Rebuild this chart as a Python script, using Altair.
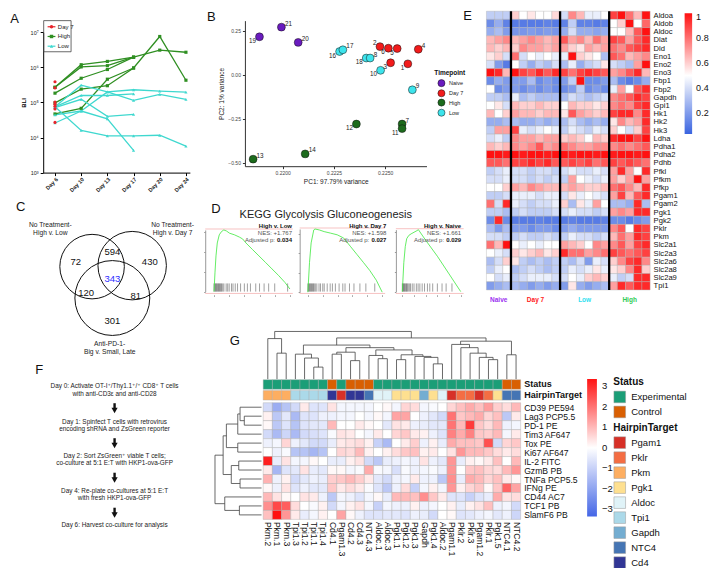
import json
import altair as alt
import pandas as pd

# ======================= DATA =======================
# ---- Panel A: BLI per mouse ----
days = ["Day 6", "Day 10", "Day 13", "Day 17", "Day 20", "Day 24"]
bli_high = [
    [2.7e5, 1.19e6, 1.48e6, 1.95e6, 3.1e6, 2.7e6],
    [2.7e5, 1.03e6, 1.12e6, 1.95e6],
    [1.84e5, 4.9e5, 8.7e5, 1.95e6],
    [9.7e4, 2.4e5, 3.0e5, 9.6e5, 7.6e6, 4.3e5],
    [4.7e4, 6.8e4, 4.6e5, 9.6e5],
]
bli_low = [
    [7.5e4, 3.1e5, 2.0e5, 1.15e5, 1.69e5, 1.23e5],
    [7.5e4, 1.58e5, 1.58e5, 1.76e5],
    [2.6e4, 5.7e4, 2.0e5, 2.3e5, 2.1e5, 1.96e5],
    [7.1e4, 1.23e5, 4.0e4, 4.6e4],
    [4.4e4, 5.7e4, 3.4e4, 4.3e3],
    [7.5e4, 1.6e4, 1.11e4, 1.11e4, 1.16e4, 5.7e3],
]
bli_day7 = [3.9e5, 2.6e5, 1.03e5, 8.9e4, 7.8e4, 6.5e4, 2.7e4]
series_names = ["Day 7", "High", "Low"]
series_colors = ["#e8242b", "#2f8f22", "#3fd8cf"]
series_shapes = ["circle", "square", "triangle-up"]
bli_ticks = [1e3, 1e4, 1e5, 1e6, 1e7]

# ---- Panel B: PCA ----
pca_id = [19, 21, 20, 2, 6, 5, 4, 3, 1, 16, 17, 18, 8, 10, 9, 12, 7, 11, 14, 13]
pca_pc1 = [0.21887, 0.21994, 0.22076, 0.22475, 0.22516, 0.22559, 0.22662, 0.22527, 0.22611,
           0.22278, 0.22294, 0.22408, 0.22427, 0.22478, 0.22633,
           0.22360, 0.22583, 0.22583, 0.22110, 0.21856]
pca_pc2 = [0.217, 0.272, 0.185, 0.161, 0.152, 0.150, 0.146, 0.069, 0.063,
           0.133, 0.143, 0.096, 0.096, 0.026, -0.085,
           -0.280, -0.280, -0.306, -0.450, -0.480]
pca_group = ["Naive"] * 3 + ["Day 7"] * 6 + ["Low"] * 6 + ["High"] * 5
tp_names = ["Naive", "Day 7", "High", "Low"]
tp_colors = ["#6a1bbf", "#f21b1b", "#1c6b1c", "#3de4ec"]
pc1_ticks = [0.2200, 0.2225, 0.2250]
pc2_ticks = [-0.50, -0.25, 0.00, 0.25]

# ---- Panel C: Venn ----
venn_counts = ["72", "594", "430", "343", "120", "81", "301"]
venn_labels = ["No Treatment-", "High v. Low", "No Treatment-", "High v. Day 7",
               "Anti-PD-1-", "Big v. Small, Late"]

# ---- Panel D: GSEA ----
d_title = "KEGG Glycolysis Gluconeogenesis"
d_names = ["High v. Low", "High v. Day 7", "High v. Naive"]
d_nes = ["NES: +1.767", "NES: +1.598", "NES: +1.661"]
d_padj = ["0.034", "0.027", "0.029"]
d_frac = [
    [0, .013, .026, .043, .069, .099, .129, .163, .206, .270, .335, .378, .421, .506, .592, .678, .764, .850, .936, 1.0],
    [0, .022, .044, .079, .096, .154, .219, .307, .395, .482, .570, .658, .746, .833, .921, 1.0],
    [0, .025, .05, .075, .11, .15, .2, .25, .275, .4, .6, .8, 1.0],
]
d_es = [
    [0, .196, .359, .489, .571, .604, .62, .610, .587, .571, .548, .529, .489, .424, .359, .294, .228, .163, .091, .026],
    [0, .307, .507, .640, .65, .640, .623, .607, .590, .557, .473, .390, .307, .223, .123, 0],
    [0, .289, .450, .530, .562, .578, .594, .610, .62, .514, .354, .177, 0],
]
d_hits = [
    [0.0, .012, .022, .03, .04, .05, .06, .07, .08, .09, .1, .115, .13, .16, .18, .2, .23, .25, .28, .31,
     .35, .4, .44, .48, .55, .6, .66, .72, .8, .97],
    [0.0, .01, .02, .03, .04, .05, .062, .075, .085, .1, .12, .15, .17, .2, .22, .26, .3, .33, .37, .42,
     .47, .5, .56, .62, .7, .78, .9],
    [0.0, .01, .02, .035, .045, .06, .07, .085, .1, .12, .14, .17, .2, .24, .27, .3, .34, .38, .43, .47,
     .52, .6, .68, .75, .85],
]

# ---- Panel E: glycolysis heatmap ----
e_genes = ["Aldoa", "Aldob", "Aldoc", "Dlat", "Dld", "Eno1", "Eno2", "Eno3", "Fbp1", "Fbp2", "Gapdh",
           "Gpi1", "Hk1", "Hk2", "Hk3", "Ldha", "Pdha1", "Pdha2", "Pdhb", "Pfkl", "Pfkm", "Pfkp",
           "Pgam1", "Pgam2", "Pgk1", "Pgk2", "Pklr", "Pkm", "Slc2a1", "Slc2a3", "Slc2a6", "Slc2a8",
           "Slc2a9", "Tpi1"]
e_matrix = [
    [.35, .35, .35, .6, .5, .55, .5, .5, .58, .4, .75, .65, .45, .45, .5, .9, 1.0, .8, .65, 1.0],
    [.15, .25, .12, .1, .1, .1, .1, .12, .1, .12, .35, .12, .12, .1, .12, .5, .6, 1.0, .5, .82],
    [.25, .3, .2, .18, .18, .2, .18, .2, .18, .25, .4, .25, .25, .22, .25, .5, .5, .65, .85, 1.0],
    [.65, .7, .75, .65, .7, .75, .7, .65, .7, .85, .7, .75, .65, .8, .7, .9, .85, .7, .85, .95],
    [.65, .6, .65, .6, .75, .7, .7, .65, .7, .7, .6, .55, .7, .65, .7, .8, .75, .85, .9, .95],
    [.55, .6, .4, .8, .4, .5, .45, .5, .45, .45, 1.0, .6, .55, .5, .3, .85, .8, .65, .7, .75],
    [.4, .2, .1, .5, .35, .25, .35, .3, .4, .3, .45, .25, .35, .4, .55, .4, .35, .3, .7, 1.0],
    [1.0, .95, .65, 1.0, .9, .85, .95, .85, .95, .9, .8, .9, .95, .9, .85, .7, .75, .85, .95, .65],
    [.15, .25, .2, .2, .2, .3, .15, .2, .15, .2, .35, 1.0, .15, .15, .2, .3, .15, .1, .15, .25],
    [.5, .15, .2, .2, .15, .2, .15, .2, .15, .15, .2, .35, .15, .2, .15, .45, .7, .5, .85, .95],
    [.35, .35, .3, .45, .3, .35, .3, .3, .3, .3, .4, .35, .3, .35, .4, .75, .8, .85, .95, .9],
    [.5, .55, .4, .65, .6, .6, .65, .6, .6, .5, .65, .6, .6, .55, .6, .75, .8, .75, .9, .95],
    [.65, .5, .6, .7, .65, .65, .6, .65, .65, .55, .85, .7, .65, .6, .65, .9, .95, .95, .75, .95],
    [.25, .25, .3, .3, .25, .25, .3, .25, .3, .3, .4, .3, .25, .3, .25, .55, .75, .65, .7, .95],
    [.35, .7, .7, .9, .45, .4, .45, .5, .45, .35, .45, .4, .35, .45, .4, .6, .5, .4, .6, .9],
    [.4, .45, .35, .75, .7, .7, .65, .7, .7, .6, .65, .6, .5, .65, .6, .95, 1.0, 1.0, .9, 1.0],
    [.65, .6, .65, .75, .7, .75, .85, .7, .75, .8, .75, .7, .7, .75, .75, .75, .8, .75, .8, .85],
    [1.0, 1.0, .98, 1.0, .98, 1.0, 1.0, .98, 1.0, 1.0, .98, 1.0, 1.0, .98, 1.0, .98, 1.0, 1.0, .98, 1.0],
    [.85, .85, .8, .9, .9, .95, .9, .95, .85, .85, .9, .85, .9, .8, .85, .9, .85, .9, .85, .8],
    [.35, .4, .45, .4, .4, .35, .4, .4, .35, .4, .45, .4, .4, .45, .4, .7, .95, .7, .5, .95],
    [.4, .4, .45, .4, .4, .35, .4, .35, .4, .35, .7, .5, .45, .4, .45, .7, .6, .7, 1.0, .7],
    [.5, .5, .6, .7, .65, .75, .7, .65, .65, .65, .7, .65, .6, .6, .65, .8, .85, .75, .65, .95],
    [.35, .35, .4, .45, .45, .45, .4, .45, .45, .4, .55, .45, .5, .45, .4, .7, .9, .65, .85, .95],
    [.8, .4, .95, .45, .4, .35, .4, .4, .45, .6, .3, .55, .45, .7, .5, .3, .3, .25, .95, .3],
    [.35, .35, .3, .35, .4, .35, .35, .35, .4, .4, .45, .4, .4, .35, .4, .7, .75, .7, .95, .95],
    [.15, .95, .15, .1, .1, .1, .12, .1, .1, .1, .12, .1, .1, .1, .12, .15, .15, .1, .15, .2],
    [.3, .2, .3, .2, .2, .15, .2, .2, .15, .2, .25, .2, .2, .2, .2, .75, .85, .5, .95, .9],
    [.4, .4, .35, .35, .4, .35, .35, .4, .35, .35, .45, .4, .4, .35, .4, .65, .8, .7, .95, .9],
    [.8, .65, 1.0, .5, .45, .5, .45, .5, .5, .7, .65, .6, .5, .75, .7, .75, .85, .7, .9, .95],
    [.5, .45, .4, .6, .55, .6, .65, .55, .6, .95, .8, .8, .7, .75, .8, .9, .85, .8, .85, .9],
    [.3, .4, .6, .55, .35, .3, .35, .3, .35, .35, .3, .4, .2, .45, .4, .6, .75, .9, .95, .75],
    [.35, .45, .5, .3, .35, .4, .35, .3, .35, .35, .45, .4, .45, .55, .45, .55, .6, .75, .95, .6],
    [.5, .4, .45, .35, .4, .45, .45, .45, .4, .4, .5, .45, .6, .65, .6, .45, .35, .4, .95, .95],
    [.2, .25, .3, .3, .25, .2, .25, .2, .25, .2, .55, .25, .2, .25, .3, .7, .95, .85, .95, .95],
]
e_groups = ["Naive", "Day 7", "Low", "High"]
e_group_sizes = [3, 6, 6, 5]
e_group_colors = ["#9b30f0", "#ff2020", "#30e0f0", "#2ecc55"]
e_ticks = [0.2, 0.4, 0.6, 0.8, 1.0]

# ---- Panel F: protocol ----
f_steps = [
    ["Day 0: Activate OT-I\u207a/Thy1.1\u207a/\u207a CD8\u207a T cells", "with anti-CD3\u03b5 and anti-CD28"],
    ["Day 1: Spinfect T cells with retrovirus", "encoding shRNA and ZsGreen reporter"],
    ["Day 2: Sort ZsGreen\u207a viable T cells;", "co-culture at 5:1 E:T with HKP1-ova-GFP"],
    ["Day 4: Re-plate co-cultures at 5:1 E:T", "with fresh HKP1-ova-GFP"],
    ["Day 6: Harvest co-culture for analysis"],
]

# ---- Panel G: flow heatmap ----
g_markers = ["CD39 PE594", "Lag3 PCP5.5", "PD-1 PE", "Tim3 AF647", "Tox PE", "Ki67 AF647", "IL-2 FITC",
             "GzmB PB", "TNFa PCP5.5", "IFNg PE", "CD44 AC7", "TCF1 PB", "SlamF6 PB"]
g_cols = ["Pkm.2", "Pkm.1", "Pkm.3", "Tpi1.3", "Tpi1.2", "Tpi1.1", "Tpi1.4", "Cd4.1", "Pgam1.3", "Cd4.2",
          "Cd4.3", "NTC4.3", "Aldoc.1", "Aldoc.3", "Pgk1.1", "Pgk1.2", "Pgk1.3", "Gapdh", "Pgk1.4",
          "Aldoc.2", "Pgam1.1", "Pklr.2", "Pklr.3", "Pgam1.2", "Pklr.1", "Pgk1.5", "NTC4.1", "NTC4.2"]
g_matrix = [
    [-0.8, -1.8, -1.3, -0.8, 0.3, -0.6, -0.6, 0.4, -0.2, -0.2, -0.2, -0.2, 0.0, 0.1, -0.2, 0.6, 0.5, -0.2, -0.1, 0.0, 0.6, 0.9, 1.2, 0.9, 1.4, 0.7, 0.5, 1.0],
    [0.2, -1.2, -0.5, -1.5, -0.6, -0.6, -0.3, -0.3, -0.2, -0.2, 0.0, -0.2, 0.1, -0.2, 1.3, 1.3, 0.0, -0.3, -0.5, -0.8, 2.0, 0.8, 1.0, 1.2, 0.6, 0.9, -1.2, 0.3],
    [0.1, -1.2, -0.6, -1.3, -0.6, -0.5, -0.5, 1.0, 0.0, 0.0, 0.3, 0.1, 0.0, -0.5, 0.4, 0.3, -0.3, -0.4, -0.5, -0.5, 2.0, 1.0, 2.8, 0.8, 0.5, 1.0, -0.3, -0.2],
    [-0.8, -1.5, -0.9, -1.5, -0.8, -0.7, -0.6, -0.1, 0.4, 0.3, 0.0, -0.2, 0.3, 0.0, 0.6, 0.8, 0.3, 0.2, -0.3, -0.6, 1.8, 1.2, 1.8, 0.8, 0.7, 1.0, -0.2, 0.3],
    [-0.3, -0.2, 0.6, -0.3, -0.5, -0.8, -0.8, -0.4, 0.3, 0.4, 0.5, 0.2, -1.0, -1.5, 0.0, 0.3, 0.7, -0.3, 0.2, -0.4, 1.2, 0.9, 0.9, 0.8, 2.5, -0.8, 0.6, 0.8],
    [0.0, -0.3, -0.1, -1.3, -1.3, -1.6, -1.3, 0.0, 0.6, 0.5, 1.0, 0.2, 0.0, 0.2, 0.5, 0.8, 0.9, 0.2, 0.3, 0.0, 0.4, 1.5, 1.0, 1.0, 0.8, 0.5, 0.3, 0.5],
    [3.2, -0.4, 0.4, -0.2, -0.2, 0.1, 0.0, -0.4, -0.4, 0.2, 0.4, -0.8, -1.2, -0.4, -0.3, -0.2, -0.3, 0.4, -0.3, -0.5, 1.5, -0.4, 0.2, 0.1, 0.3, 0.9, 0.0, 1.0],
    [0.3, -1.6, -0.6, -0.5, 0.4, -0.4, -0.5, 0.1, 0.1, -0.2, -0.1, 1.2, -0.1, -0.2, -0.7, -0.1, -0.3, -0.2, -0.1, -0.3, 1.5, 0.0, 0.8, 0.9, 0.6, 0.5, 1.0, 1.5],
    [1.1, -0.3, 0.2, -0.8, -0.5, -0.3, -0.4, 0.7, 0.8, 1.0, 0.7, 0.3, -0.5, -0.8, -0.3, -0.2, 0.3, -0.3, -0.3, -1.2, 1.6, -0.4, 1.2, 1.0, 0.6, 0.9, 0.3, 0.1],
    [0.1, -0.3, 0.4, -0.6, -0.3, -0.5, -0.5, 0.8, 0.3, 0.5, 0.3, -0.1, -0.6, -1.2, -0.3, 0.5, -1.0, -0.2, 0.2, -0.2, 1.5, 0.2, 0.6, 0.8, 0.1, 0.8, 2.2, 1.3],
    [1.0, 0.4, 0.1, 0.0, 0.4, 0.3, -0.3, -1.2, -0.2, -0.3, -0.6, -0.2, 0.1, -0.4, 1.0, 1.0, 0.9, 1.6, 0.8, 0.3, -0.6, -0.6, -1.0, -0.6, -0.4, 1.2, 0.4, 0.5],
    [1.6, 2.6, 2.3, 0.5, 0.0, -0.1, 0.2, -0.8, -0.2, 0.2, 0.4, -0.2, -1.0, -0.2, -0.3, -0.3, 0.2, -0.3, -0.2, 0.0, 0.2, -0.4, 0.2, 0.4, 0.9, -0.3, -0.2, -0.8],
    [0.9, 3.4, 1.5, 0.3, -0.4, -0.2, 0.2, 0.0, 1.3, 0.1, -0.3, -0.6, -0.6, -0.5, -0.5, -0.6, -0.3, -0.4, -0.8, 0.0, 0.1, -0.6, -0.5, -0.3, -0.2, -0.5, -0.3, -0.9],
]
status_names = ["Experimental", "Control"]
status_colors = ["#1b9e77", "#d95f02"]
hairpin_names = ["Pgam1", "Pklr", "Pkm", "Pgk1", "Aldoc", "Tpi1", "Gapdh", "NTC4", "Cd4"]
hairpin_colors = ["#d73027", "#f46d43", "#fdae61", "#fee090", "#e0f3f8", "#abd9e9", "#74add1", "#4575b4", "#313695"]
g_ticks = [-3, -2, -1, 0, 1, 2, 3]
# hierarchical clustering (child a, child b, merge height); leaves are 1-based positions
g_col_tree = [
    ("a", 2, 3, 80), ("b", 1, "a", 125), ("c", 6, 7, 37), ("d", 5, "c", 65), ("e", 4, "d", 77),
    ("f", 8, 9, 77), ("g", 10, 11, 57), ("h", "f", "g", 83), ("i", 13, 14, 63), ("j", 12, "i", 73),
    ("k", 15, 16, 60), ("l", 19, 20, 47), ("m", 18, "l", 67), ("n", 17, "m", 70), ("o", "k", "n", 75),
    ("p", "j", "o", 90), ("q", "h", "p", 97), ("r", "e", "q", 105), ("u1", 25, 26, 60),
    ("u2", 24, "u1", 67), ("u3", 23, "u2", 80), ("u4", 22, "u3", 97), ("u5", 21, "u4", 107),
    ("v1", 27, 28, 75), ("w", "u5", "v1", 117), ("x", "r", "w", 127), ("root", "b", "x", 147),
]
g_row_tree = [
    ("r1", 2, 3, 53), ("r2", 1, "r1", 66), ("r3", "r2", 4, 73), ("r4", 5, 6, 73), ("r5", "r3", "r4", 108),
    ("r6", 7, 8, 70), ("r7", 9, 10, 66), ("r8", "r6", "r7", 93), ("r9", "r5", "r8", 118),
    ("r10", 12, 13, 68), ("r11", 11, "r10", 113), ("root", "r9", "r11", 143),
]
panel_letters = ["A", "B", "C", "D", "E", "F", "G"]

# ======================= LAYOUT / STYLE =======================
W, H = 704, 560
SX, SY = W / 720.0, H / 576.0
FONT = "Liberation Sans"
# where each PCA point label sits relative to its point
PCA_LABEL_SIDE = {19: "lb", 21: "rt", 20: "rt", 2: "lt", 6: "lb", 5: "lb", 4: "rt", 3: "lb", 1: "lb",
                  16: "lb", 17: "rt", 18: "lb", 8: "rt", 10: "lb", 9: "rt", 12: "lb", 7: "rt",
                  11: "lb", 14: "rt", 13: "rt"}


def px(v):
    return v * SX


def py(v):
    return v * SY


def sx(dom, lo, hi):
    return alt.Scale(domain=dom, range=[px(lo), px(hi)], nice=False, zero=False)


def sy(dom, bottom, top):
    return alt.Scale(domain=dom, range=[py(bottom), py(top)], nice=False, zero=False)


PAGE_X = sx([0, 720], 0, 720)
PAGE_Y = alt.Scale(domain=[0, 576], range=[0, H], nice=False, zero=False)


def page_x(f="x"):
    return alt.X(f"{f}:Q", scale=PAGE_X, axis=None)


def page_y(f="y"):
    return alt.Y(f"{f}:Q", scale=PAGE_Y, axis=None)


def texts(rows, **mk):
    df = pd.DataFrame(rows, columns=["t", "x", "y"])
    base = dict(font=FONT, fontSize=6, color="#111", align="center", baseline="middle")
    base.update(mk)
    return alt.Chart(df).mark_text(**base).encode(x=page_x(), y=page_y(), text="t:N")


layers = []

# ----------------------- Panel A -----------------------
rowsA = []
for grp, mice in (("High", bli_high), ("Low", bli_low)):
    for m, vals in enumerate(mice):
        for k, v in enumerate(vals):
            rowsA.append(dict(group=grp, mouse=f"{grp}{m}", day=days[k], k=k, bli=v))
for m, v in enumerate(bli_day7):
    rowsA.append(dict(group="Day 7", mouse=f"D7_{m}", day=days[0], k=0, bli=v))
dfA = pd.DataFrame(rowsA)

A_XS = alt.Scale(type="point", domain=days, range=[px(36), px(186)], padding=0.3, align=0.75)
A_YS = alt.Scale(type="log", domain=[1e3, 1e7], range=[py(169.3), py(25)], nice=False)
colA = alt.Color("group:N", scale=alt.Scale(domain=series_names, range=series_colors), legend=None)
shpA = alt.Shape("group:N", scale=alt.Scale(domain=series_names, range=series_shapes), legend=None)
sup = json.dumps(["\u2070", "\u00b9", "\u00b2", "\u00b3", "\u2074", "\u2075", "\u2076", "\u2077"])

linesA = alt.Chart(dfA[dfA.group != "Day 7"]).mark_line(strokeWidth=1.3).encode(
    x=alt.X("day:O", scale=A_XS, axis=alt.Axis(
        orient="bottom", offset=py(169.3) - H, title=None, labelAngle=-45, labelAlign="right",
        labelBaseline="top", labelFontSize=5.5, labelFontWeight="bold", labelPadding=1, tickSize=3,
        grid=False, domainColor="#000", tickColor="#000", labelColor="#222", labelFlush=False,
        labelOverlap=False)),
    y=alt.Y("bli:Q", scale=A_YS, axis=alt.Axis(
        orient="left", offset=-px(36), values=bli_ticks,
        labelExpr="'10' + " + sup + "[round(log(datum.value)/LN10)]",
        title="BLI", titleFontSize=6, titleFontWeight="bold", titlePadding=3, labelFontSize=5.5,
        tickSize=3, grid=False, domainColor="#000", tickColor="#000", labelColor="#222",
        labelFlush=False, labelOverlap=False)),
    color=colA, detail="mouse:N", order="k:Q")
ptsA = alt.Chart(dfA).mark_point(filled=True, size=10, opacity=1).encode(
    x=alt.X("day:O", scale=A_XS, axis=None),
    y=alt.Y("bli:Q", scale=A_YS, axis=None), color=colA, shape=shpA)
layers += [linesA, ptsA]

legA = pd.DataFrame(dict(group=series_names, y=[19.3 + 10 * i for i in range(3)]))
legA["x1"], legA["x2"], legA["xm"], legA["xt"] = 40.5, 48.5, 44.5, 51.0
layers.append(alt.Chart(pd.DataFrame([dict(x=36.5, x2=64.5, y=13, y2=45)])).mark_rect(
    fill="transparent", stroke="#444", strokeWidth=0.8).encode(
    x=page_x(), x2=alt.X2("x2"), y=page_y(), y2=alt.Y2("y2")))
layers.append(alt.Chart(legA).mark_rule(strokeWidth=1.2).encode(
    x=page_x("x1"), x2=alt.X2("x2"), y=page_y("y"), color=colA))
layers.append(alt.Chart(legA).mark_point(filled=True, size=12, opacity=1).encode(
    x=page_x("xm"), y=page_y("y"), color=colA, shape=shpA))
layers.append(alt.Chart(legA).mark_text(font=FONT, fontSize=6, align="left", baseline="middle",
                                        color="#222").encode(x=page_x("xt"), y=page_y("y"),
                                                             text="group:N"))

# ----------------------- Panel B -----------------------
dfB = pd.DataFrame(dict(id=pca_id, pc1=pca_pc1, pc2=pca_pc2, group=pca_group))
dfB["lab"] = dfB.id.astype(str)
dfB["side"] = dfB.id.map(PCA_LABEL_SIDE)
B_XS = sx([0.21816, 0.22702], 242.3, 428)
B_YS = sy([-0.52, 0.309], 162.7, 13)
colB = alt.Color("group:N", scale=alt.Scale(domain=tp_names, range=tp_colors), legend=None)
layers.append(alt.Chart(dfB).mark_circle(size=62, stroke="#111", strokeWidth=0.5, opacity=1).encode(
    x=alt.X("pc1:Q", scale=B_XS, axis=alt.Axis(
        orient="bottom", offset=py(162.7) - H, values=pc1_ticks, format=".4f",
        title="PC1: 97.79% variance", titleFontSize=6.5, titleFontWeight="normal", titlePadding=3,
        titleColor="#222", labelFontSize=5, labelColor="#444", tickSize=2.5, tickColor="#333",
        domainColor="#333", grid=False, labelFlush=False)),
    y=alt.Y("pc2:Q", scale=B_YS, axis=alt.Axis(
        orient="left", offset=-px(242.3), values=pc2_ticks, format=".2f",
        title="PC2: 1% variance", titleFontSize=6.5, titleFontWeight="normal", titlePadding=3,
        titleColor="#222", labelFontSize=5, labelColor="#444", tickSize=2.5, tickColor="#333",
        domainColor="#333", grid=False, labelFlush=False)),
    color=colB))
SIDE_STYLE = {"rt": dict(align="left", dx=3.5, dy=-3.5), "lb": dict(align="right", dx=-3.5, dy=4),
              "lt": dict(align="right", dx=-3.5, dy=-4)}
for side, st in SIDE_STYLE.items():
    sub = dfB[dfB.side == side]
    layers.append(alt.Chart(sub).mark_text(font=FONT, fontSize=6.3, color="#222", baseline="middle",
                                           **st).encode(
        x=alt.X("pc1:Q", scale=B_XS, axis=None), y=alt.Y("pc2:Q", scale=B_YS, axis=None),
        text="lab:N"))
legB = pd.DataFrame(dict(group=tp_names, y=[77.3, 87.7, 97.3, 107.7]))
legB["xc"], legB["xt"] = 443.3, 451.0
layers.append(texts([("Timepoint", 436, 66.5)], fontWeight="bold", fontSize=6.5, align="left"))
layers.append(alt.Chart(legB).mark_circle(size=50, stroke="#111", strokeWidth=0.5, opacity=1).encode(
    x=page_x("xc"), y=page_y("y"), color=colB))
layers.append(alt.Chart(legB).mark_text(font=FONT, fontSize=5.5, align="left", baseline="middle",
                                        color="#222").encode(x=page_x("xt"), y=page_y("y"),
                                                             text="group:N"))

# ----------------------- Panel C -----------------------
VENN_CIRCLES = [(86, 266, 33), (127, 265, 35), (106.7, 298.3, 38.3)]
dfC = pd.DataFrame([dict(x=cx, y=cy, s=(2 * r * SX) ** 2) for cx, cy, r in VENN_CIRCLES])
layers.append(alt.Chart(dfC).mark_point(shape="circle", filled=False, strokeWidth=1, color="#111",
                                        opacity=1).encode(
    x=page_x(), y=page_y(), size=alt.Size("s:Q", scale=None)))
VENN_POS = [(69.3, 261.7), (106.7, 250.7), (145, 261.7), (106.7, 278.3), (80, 293.3), (130.7, 296),
            (106.7, 321.7)]
layers.append(texts([(t, x, y) for t, (x, y) in zip(venn_counts, VENN_POS) if t != "343"],
                    fontSize=9.5))
layers.append(texts([("343",) + VENN_POS[3]], fontSize=9.5, color="#2b2bff"))
VENN_LAB_POS = [(43.3, 223.3), (43.3, 231.5), (168.3, 223.3), (168.3, 231.5), (104, 345.7), (104, 353.5)]
layers.append(texts([(t, x, y) for t, (x, y) in zip(venn_labels, VENN_LAB_POS)], fontSize=6.7,
                    color="#222"))

# ----------------------- Panel D -----------------------
D_FR = [dict(ax=201.7, x0=210.7, x1=288.3, right=290.5, top=228.3, y0=291.7, es=0.62),
        dict(ax=298.3, x0=306.7, x1=382.7, right=387.0, top=227.3, y0=292.3, es=0.65),
        dict(ax=396.7, x0=403.3, x1=463.0, right=463.5, top=228.0, y0=291.7, es=0.62)]
layers.append(texts([(d_title, 325, 213)], fontSize=11, color="#222"))
for k, fr in enumerate(D_FR):
    DX = sx([0, 1], fr["x0"], fr["x1"])
    DY = sy([0, fr["es"]], fr["y0"], fr["top"])
    refl = pd.DataFrame([dict(x=fr["ax"], x2=fr["x1"] + 3, y=fr["top"] - 1),
                         dict(x=fr["ax"], x2=fr["x1"] + 3, y=293.6)])
    layers.append(alt.Chart(refl).mark_rule(color="#f29a9a", strokeWidth=0.6).encode(
        x=page_x(), x2=alt.X2("x2"), y=page_y()))
    dfh = pd.DataFrame(dict(f=d_hits[k]))
    dfh["y"], dfh["y2"] = 283.3, 291.7
    layers.append(alt.Chart(dfh).mark_rule(color="#222", strokeWidth=0.5, opacity=0.85).encode(
        x=alt.X("f:Q", scale=DX, axis=None), y=page_y("y"), y2=alt.Y2("y2")))
    dfc = pd.DataFrame(dict(f=d_frac[k], es=d_es[k]))
    layers.append(alt.Chart(dfc).mark_line(color="#3ee83e", strokeWidth=0.8).encode(
        x=alt.X("f:Q", scale=DX, axis=alt.Axis(orient="bottom", offset=py(295) - H, labels=False,
                                               tickSize=1.5, tickCount=5, domain=False,
                                               tickColor="#999", grid=False, title=None)),
        y=alt.Y("es:Q", scale=DY, axis=alt.Axis(orient="left", offset=-px(fr["ax"]), labels=False,
                                                tickSize=1.5, tickCount=4, domainColor="#999",
                                                tickColor="#999", grid=False, title=None))))
    r = fr["right"]
    layers.append(texts([(d_names[k], r, 224.3)], fontSize=6, fontWeight="bold", align="right"))
    layers.append(texts([(d_nes[k], r, 231.2), ("Adjusted p:", r - 17.5, 238.4)], fontSize=6,
                        align="right", color="#555"))
    layers.append(texts([(d_padj[k], r, 238.4)], fontSize=6, fontWeight="bold", align="right"))

# ----------------------- Panel E -----------------------
rowsE = [dict(x0=i, x1=i + 1, y0=j, y1=j + 1, v=v)
         for j, g in enumerate(e_genes) for i, v in enumerate(e_matrix[j])]
dfE = pd.DataFrame(rowsE)
nE = len(e_genes)
E_XS = sx([0, 20], 489.3, 656.7)
E_YS = alt.Scale(domain=[0, nE], range=[py(3.3), py(290)], nice=False, zero=False)
layers.append(alt.Chart(dfE).mark_rect(stroke="#b0b0b0", strokeWidth=0.4).encode(
    x=alt.X("x0:Q", scale=E_XS, axis=None), x2=alt.X2("x1"),
    y=alt.Y("y0:Q", scale=E_YS, axis=alt.Axis(
        orient="right", offset=px(656.7) - W, values=[j + 0.5 for j in range(nE)],
        labelExpr=json.dumps(e_genes) + "[floor(datum.value)]", ticks=False, domain=False,
        labelFontSize=7.6, labelPadding=3, labelColor="#111", grid=False, title=None,
        labelFlush=False, labelOverlap=False, labelAlign="left", labelBaseline="middle")),
    y2=alt.Y2("y1"),
    color=alt.Color("v:Q", scale=alt.Scale(domain=[0.03, 0.5, 1.0],
                                           range=["#3a64e0", "#ffffff", "#ff1111"],
                                           interpolate="rgb"),
                    legend=alt.Legend(orient="none", legendX=px(692), legendY=py(5.5),
                                      direction="vertical", gradientLength=py(130) - py(6),
                                      gradientThickness=7.5, values=e_ticks, format="~g", title=None,
                                      labelFontSize=9, labelOffset=4, gradientStrokeWidth=0,
                                      padding=0, labelColor="#111", labelFont=FONT))))
bounds = []
acc = 0
for s in e_group_sizes[:-1]:
    acc += s
    bounds.append(acc)
dfSep = pd.DataFrame(dict(x=bounds))
dfSep["y0"], dfSep["y1"] = 0, nE
layers.append(alt.Chart(dfSep).mark_rule(color="black", strokeWidth=2.3).encode(
    x=alt.X("x:Q", scale=E_XS, axis=None), y=alt.Y("y0:Q", scale=E_YS, axis=None), y2=alt.Y2("y1")))
centers, acc = [], 0
for s in e_group_sizes:
    centers.append(acc + s / 2)
    acc += s
dfEg = pd.DataFrame(dict(g=e_groups, c=centers))
dfEg["y"] = 300
layers.append(alt.Chart(dfEg).mark_text(font=FONT, fontSize=6.5, fontWeight="bold",
                                        baseline="middle").encode(
    x=alt.X("c:Q", scale=E_XS, axis=None), y=page_y("y"), text="g:N",
    color=alt.Color("g:N", scale=alt.Scale(domain=e_groups, range=e_group_colors), legend=None)))

# ----------------------- Panel F -----------------------
F_LINE_Y = [(389, 396.7), (425.7, 433), (460.7, 468), (496.7, 504), (532,)]
frows = []
for lines, ys in zip(f_steps, F_LINE_Y):
    for t, y in zip(lines, ys):
        frows.append((t, 109, y))
layers.append(texts(frows, fontSize=6.4, color="#222", font="Liberation Sans, DejaVu Sans"))
ARROWS = [406.5, 442.5, 478.0, 514.0]
dfArr = pd.DataFrame(dict(y=ARROWS))
dfArr["x"], dfArr["y2"], dfArr["yh"] = 109, dfArr.y + 6.5, dfArr.y + 7.5
layers.append(alt.Chart(dfArr).mark_rule(color="#111", strokeWidth=2.4).encode(
    x=page_x(), y=page_y(), y2=alt.Y2("y2")))
layers.append(alt.Chart(dfArr).mark_point(shape="triangle-down", filled=True, size=38, color="#111",
                                          opacity=1).encode(x=page_x(), y=page_y("yh")))

# ----------------------- Panel G -----------------------
nR, nC = len(g_markers), len(g_cols)
G_XS = sx([0, nC], 261, 524.3)
G_YS = alt.Scale(domain=[0, nR], range=[py(406), py(526)], nice=False, zero=False)
rowsG = [dict(x0=i, x1=i + 1, y0=j, y1=j + 1, v=v)
         for j in range(nR) for i, v in enumerate(g_matrix[j])]
dfG = pd.DataFrame(rowsG)
layers.append(alt.Chart(dfG).mark_rect(stroke="#a8a8a8", strokeWidth=0.4).encode(
    x=alt.X("x0:Q", scale=G_XS, axis=alt.Axis(
        orient="bottom", offset=py(526) - H, values=[i + 0.5 for i in range(nC)],
        labelExpr=json.dumps(g_cols) + "[floor(datum.value)]", labelAngle=90, labelAlign="left",
        labelBaseline="middle", labelFontSize=8.6, labelPadding=2, ticks=False, domain=False,
        grid=False, title=None, labelFlush=False, labelOverlap=False, labelColor="#111")),
    x2=alt.X2("x1"),
    y=alt.Y("y0:Q", scale=G_YS, axis=alt.Axis(
        orient="right", offset=px(524.3) - W, values=[j + 0.5 for j in range(nR)],
        labelExpr=json.dumps(g_markers) + "[floor(datum.value)]", ticks=False, domain=False,
        labelFontSize=8.6, labelPadding=3, grid=False, title=None, labelFlush=False,
        labelOverlap=False, labelAlign="left", labelBaseline="middle", labelColor="#111")),
    y2=alt.Y2("y1"),
    color=alt.Color("v:Q", scale=alt.Scale(domain=[-3.35, 0, 3.35],
                                           range=["#4466e6", "#ffffff", "#ff1414"],
                                           interpolate="rgb"),
                    legend=alt.Legend(orient="none", legendX=px(592.3), legendY=py(381.7),
                                      direction="vertical", gradientLength=py(523) - py(381.7),
                                      gradientThickness=10 * SX, values=g_ticks, format="d",
                                      title=None, labelFontSize=9.5, labelOffset=5,
                                      gradientStrokeWidth=0, padding=0, labelColor="#111",
                                      labelFont=FONT))))
g_status = ["Control" if c.startswith(("Cd4", "NTC4")) else "Experimental" for c in g_cols]
g_hairpin = [c.split(".")[0] for c in g_cols]
TRACK_Y = alt.Scale(type="band", domain=["Status", "HairpinTarget"], range=[py(382.3), py(403.3)],
                    paddingInner=0.12, paddingOuter=0)
dfS = pd.DataFrame(dict(x0=list(range(nC)), x1=list(range(1, nC + 1)), status=g_status,
                        hairpin=g_hairpin))
dfS["t1"], dfS["t2"] = "Status", "HairpinTarget"
common_leg = dict(orient="none", titleFontSize=10, titleFontWeight="bold", titleFont=FONT,
                  labelFontSize=9.5, labelFont=FONT, symbolType="square", symbolSize=135,
                  symbolStrokeColor="#999999", symbolStrokeWidth=0.5, rowPadding=0, labelOffset=5,
                  padding=0, titlePadding=3, symbolOpacity=1, direction="vertical",
                  labelColor="#111", titleColor="#111")
layers.append(alt.Chart(dfS).mark_rect(stroke="#a8a8a8", strokeWidth=0.4).encode(
    x=alt.X("x0:Q", scale=G_XS, axis=None), x2=alt.X2("x1"),
    y=alt.Y("t1:N", scale=TRACK_Y, axis=alt.Axis(
        orient="right", offset=px(524.3) - W, ticks=False, domain=False, labelFontSize=9,
        labelFontWeight="bold", labelPadding=3, title=None, grid=False, labelAlign="left",
        labelColor="#111")),
    color=alt.Color("status:N", scale=alt.Scale(domain=status_names, range=status_colors),
                    legend=alt.Legend(title="Status", legendX=px(619), legendY=py(380),
                                      **common_leg))))
layers.append(alt.Chart(dfS).mark_rect(stroke="#a8a8a8", strokeWidth=0.4).encode(
    x=alt.X("x0:Q", scale=G_XS, axis=None), x2=alt.X2("x1"),
    y=alt.Y("t2:N", scale=TRACK_Y, axis=None),
    color=alt.Color("hairpin:N", scale=alt.Scale(domain=hairpin_names, range=hairpin_colors),
                    legend=alt.Legend(title="HairpinTarget", legendX=px(619), legendY=py(427),
                                      **common_leg))))


def dendro(tree, n):
    pos = {i: i - 0.5 for i in range(1, n + 1)}
    hgt = {i: 0.0 for i in range(1, n + 1)}
    segs = []
    for name, a, b, h in tree:
        for c in (a, b):
            segs.append(dict(p1=pos[c], p2=pos[c], h1=hgt[c], h2=h))
        segs.append(dict(p1=pos[a], p2=pos[b], h1=h, h2=h))
        pos[name] = (pos[a] + pos[b]) / 2
        hgt[name] = h
    return pd.DataFrame(segs)


dcol = dendro(g_col_tree, nC)
layers.append(alt.Chart(dcol).mark_rule(color="#444", strokeWidth=0.8).encode(
    x=alt.X("p1:Q", scale=G_XS, axis=None), x2=alt.X2("p2"),
    y=alt.Y("h1:Q", scale=sy([0, 147], 381.7, 332.7), axis=None), y2=alt.Y2("h2")))
drow = dendro(g_row_tree, nR)
layers.append(alt.Chart(drow).mark_rule(color="#444", strokeWidth=0.8).encode(
    y=alt.Y("p1:Q", scale=G_YS, axis=None), y2=alt.Y2("p2"),
    x=alt.X("h1:Q", scale=sx([0, 143], 259.3, 211.7), axis=None), x2=alt.X2("h2")))

# ----------------------- Panel letters -----------------------
LETTER_POS = [(6.7, 11.7), (208, 9.5), (13, 205), (212.7, 206.7), (470, 8.5), (32, 372), (232, 343)]
layers.append(texts([(t, x, y) for t, (x, y) in zip(panel_letters, LETTER_POS)], fontSize=13,
                    color="#111"))

chart = alt.layer(*layers).resolve_scale(
    x="independent", y="independent", color="independent", shape="independent", size="independent"
).resolve_axis(x="independent", y="independent").resolve_legend(color="independent").properties(
    width=W, height=H, padding=0, autosize=alt.AutoSizeParams(type="none")
).configure(font=FONT).configure_view(stroke="transparent")

chart.save("out.html", embed_options={"renderer": "svg", "actions": False})
